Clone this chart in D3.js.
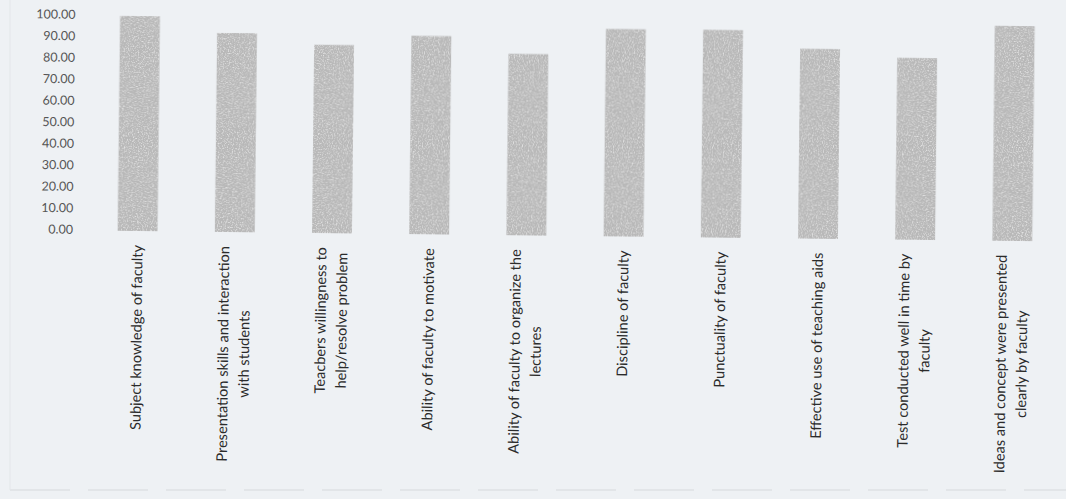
<!DOCTYPE html>
<html>
<head>
<meta charset="utf-8">
<script src="https://cdn.jsdelivr.net/npm/d3@7"></script>
<style>
  html, body { margin: 0; padding: 0; background: #eef1f4; }
  svg { display: block; }
</style>
</head>
<body>
<svg id="chart" width="1066" height="499"></svg>
<script>
// categories (line breaks where the original label wraps)
const categories = [
  "Subject knowledge of faculty",
  "Presentation skills and interaction\nwith students",
  "Teacbers willingness to\nhelp/resolve problem",
  "Ability of faculty to motivate",
  "Ability of faculty to organize the\nlectures",
  "Discipline of faculty",
  "Punctuality of faculty",
  "Effective use of teaching aids",
  "Test conducted well in time by\nfaculty",
  "Ideas and concept were presented\nclearly by faculty"
];

// percentage per category
const values = [99.5, 92.1, 87.1, 91.8, 83.9, 96.0, 96.1, 87.8, 84.1, 99.5];

const yTicks = [0, 10, 20, 30, 40, 50, 60, 70, 80, 90, 100];

const W = 1066, H = 499;
const svg = d3.select("#chart");

// grainy print look for the bars
const defs = svg.append("defs");
const f = defs.append("filter").attr("id", "grain")
  .attr("x", 0).attr("y", 0).attr("width", 1).attr("height", 1);
f.append("feTurbulence").attr("type", "fractalNoise").attr("baseFrequency", 0.8)
  .attr("numOctaves", 2).attr("seed", 3).attr("result", "noise");
f.append("feColorMatrix").attr("in", "noise").attr("type", "matrix")
  .attr("values", "0 0 0 0 1  0 0 0 0 1  0 0 0 0 1  1.6 0 0 0 -0.75")
  .attr("result", "spots");
f.append("feComposite").attr("in", "spots").attr("in2", "SourceGraphic")
  .attr("operator", "in").attr("result", "spotsIn");
const m = f.append("feMerge");
m.append("feMergeNode").attr("in", "SourceGraphic");
m.append("feMergeNode").attr("in", "spotsIn");

// the scanned page is slightly tilted
const g = svg.append("g").attr("transform", "rotate(0.65, 138, 230)");

const x = d3.scaleBand()
  .domain(categories)
  .range([89, 1061])
  .paddingInner(0.59)
  .paddingOuter(0.295);

const y = d3.scaleLinear()
  .domain([0, 100])
  .range([230, 15]);

// y axis: labels only, no line
const yAxis = g.append("g")
  .attr("transform", "translate(75,0)")
  .call(d3.axisLeft(y).tickValues(yTicks).tickFormat(d3.format(".2f")).tickSize(0).tickPadding(2));
yAxis.select(".domain").remove();
yAxis.selectAll("text")
  .attr("fill", "#555")
  .style("font-family", "Lato, 'Open Sans', sans-serif")
  .style("font-size", "12.5px");

// bars
g.selectAll("rect.bar")
  .data(values)
  .enter()
  .append("rect")
  .attr("class", "bar")
  .attr("x", (d, i) => x(categories[i]))
  .attr("y", d => y(d))
  .attr("width", x.bandwidth())
  .attr("height", d => y(0) - y(d) + 1)
  .attr("fill", "#b8b8b8")
  .attr("filter", "url(#grain)");

// category labels, rotated, anchored at the top
const lineH = 21;
const labels = g.selectAll("g.lab")
  .data(categories)
  .enter()
  .append("g")
  .attr("class", "lab")
  .attr("transform", d => `translate(${x(d) + x.bandwidth() / 2},245) rotate(-90)`);

labels.each(function (d) {
  const lines = d.split("\n");
  const sel = d3.select(this);
  const texts = sel.selectAll("text")
    .data(lines)
    .enter()
    .append("text")
    .attr("fill", "#2b2b2b")
    .style("font-family", "Lato, 'Open Sans', sans-serif")
    .style("font-size", "14.6px")
    .attr("dy", "0.35em")
    .attr("y", (l, i) => (i - (lines.length - 1) / 2) * lineH)
    .attr("text-anchor", "middle")
    .text(l => l);
  let maxLen = 0;
  texts.each(function () { maxLen = Math.max(maxLen, this.getComputedTextLength()); });
  texts.attr("x", -maxLen / 2);
});

// faint page border of the scan
svg.append("line")
  .attr("x1", 10).attr("x2", W).attr("y1", 490).attr("y2", 490)
  .attr("stroke", "#d6d9dc").attr("stroke-width", 1.2).attr("stroke-dasharray", "60,18");
svg.append("line")
  .attr("x1", 10).attr("x2", 10).attr("y1", 0).attr("y2", 490)
  .attr("stroke", "#e3e6e9").attr("stroke-width", 1);
</script>
</body>
</html>
